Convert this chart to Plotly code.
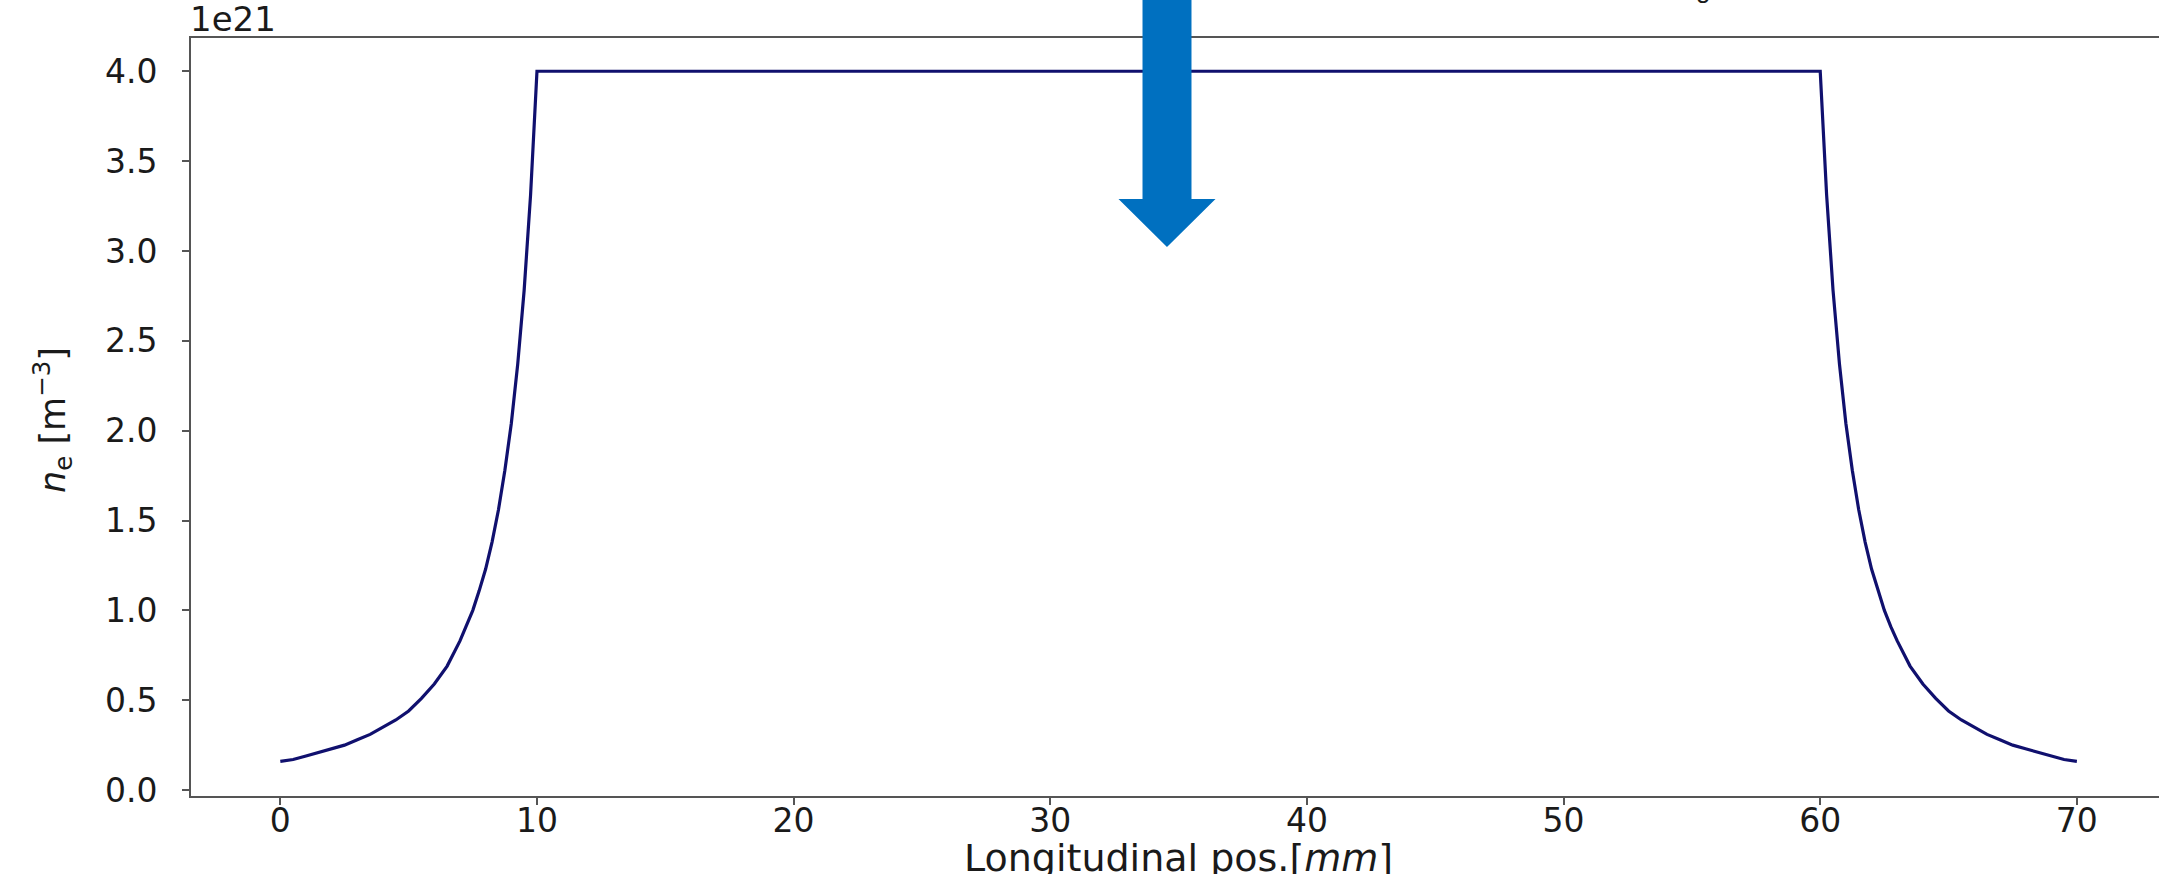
import plotly.graph_objects as go

# ---- data, density in units of 1e21 m^-3 ----
POS_MM = [0, 0.5, 1, 1.5, 2, 2.5, 3, 3.5, 4, 4.5, 5, 5.5, 6, 6.5, 7, 7.25, 7.5, 7.75, 8, 8.25, 8.5, 8.75,
          9, 9.25, 9.5, 9.75, 9.9, 10,
          60, 60.1, 60.25, 60.5, 60.75, 61, 61.25, 61.5, 61.75, 62, 62.25, 62.5, 62.75, 63, 63.5, 64, 64.5,
          65, 65.5, 66, 66.5, 67, 67.5, 68, 68.5, 69, 69.5, 70]
NE_1E21 = [0.16, 0.17, 0.19, 0.21, 0.23, 0.25, 0.28, 0.31, 0.35, 0.39, 0.44, 0.51, 0.59, 0.69, 0.83, 0.91, 1.0, 1.11,
           1.23, 1.38, 1.56, 1.78, 2.04, 2.37, 2.78, 3.31, 3.70, 4.0,
           4.0, 3.70, 3.31, 2.78, 2.37, 2.04, 1.78, 1.56, 1.38, 1.23, 1.11, 1.0, 0.91, 0.83, 0.69, 0.59, 0.51,
           0.44, 0.39, 0.35, 0.31, 0.28, 0.25, 0.23, 0.21, 0.19, 0.17, 0.16]
X_TICKS = [0, 10, 20, 30, 40, 50, 60, 70]
Y_TICKS = [0.0, 0.5, 1.0, 1.5, 2.0, 2.5, 3.0, 3.5, 4.0]
X_RANGE = [-3.48, 73.2]
Y_RANGE = [-0.033, 4.185]

# ---- layout constants (pixels) ----
W, H = 2159, 874
ML, MR, MT, MB = 191, 0, 38, 78
PW, PH = W - ML - MR, H - MT - MB
FONT = "DejaVu Sans"
TXT = "#1a1a1a"
SPINE = "#555555"


def px_to_paper_x(px):
    return (px - ML) / PW


def px_to_paper_y(py):
    return (H - MB - py) / PH


fig = go.Figure()
fig.add_trace(go.Scatter(x=POS_MM, y=NE_1E21, mode="lines",
                         line=dict(color="#10106e", width=3.2), showlegend=False,
                         hoverinfo="skip"))

# blue down arrow (decoration), defined in pixels
ax_c, shaft_hw, head_hw, head_top, tip = 1167, 24.5, 48.5, 199, 247
pts = [(ax_c - shaft_hw, -5), (ax_c + shaft_hw, -5), (ax_c + shaft_hw, head_top),
       (ax_c + head_hw, head_top), (ax_c, tip), (ax_c - head_hw, head_top),
       (ax_c - shaft_hw, head_top)]
path = "M " + " L ".join(f"{px_to_paper_x(x):.5f},{px_to_paper_y(y):.5f}" for x, y in pts) + " Z"
fig.add_shape(type="path", path=path, xref="paper", yref="paper",
              fillcolor="#0070C0", line=dict(width=0), layer="above")

annotations = [
    dict(text="1e21", x=px_to_paper_x(188), y=px_to_paper_y(41), xref="paper", yref="paper",
         xanchor="left", yanchor="bottom", showarrow=False,
         font=dict(family=FONT, size=34, color=TXT)),
    dict(text="<i>n</i><sub>e</sub> [m<sup>−3</sup>]", x=px_to_paper_x(52), y=px_to_paper_y(420),
         xref="paper", yref="paper", textangle=-90, showarrow=False,
         xanchor="center", yanchor="middle",
         font=dict(family=FONT, size=35, color=TXT)),
    dict(text="Longitudinal pos.[<i>mm</i>]", x=px_to_paper_x(1178), y=px_to_paper_y(882),
         xref="paper", yref="paper", xanchor="center", yanchor="bottom", showarrow=False,
         font=dict(family=FONT, size=38, color=TXT)),
    dict(text="g", x=px_to_paper_x(1703), y=px_to_paper_y(6), xref="paper", yref="paper",
         xanchor="center", yanchor="bottom", showarrow=False,
         font=dict(family="Liberation Sans", size=26, color=TXT)),
]

fig.update_layout(
    width=W, height=H,
    margin=dict(l=ML, r=MR, t=MT, b=MB, pad=0),
    paper_bgcolor="white", plot_bgcolor="white",
    annotations=annotations,
    xaxis=dict(range=X_RANGE, tickvals=X_TICKS, showgrid=False, zeroline=False,
               showline=True, linecolor=SPINE, linewidth=2, mirror=True,
               ticks="outside", ticklen=7, tickwidth=1.5, tickcolor=SPINE,
               tickfont=dict(family=FONT, size=33, color=TXT), ticklabelstandoff=-13),
    yaxis=dict(range=Y_RANGE, tickvals=Y_TICKS, tickformat=".1f", showgrid=False, zeroline=False,
               showline=True, linecolor=SPINE, linewidth=2, mirror=False,
               ticks="outside", ticklen=7, tickwidth=1.5, tickcolor=SPINE,
               tickfont=dict(family=FONT, size=33, color=TXT), ticklabelstandoff=18),
)

fig.write_html("out.html")
